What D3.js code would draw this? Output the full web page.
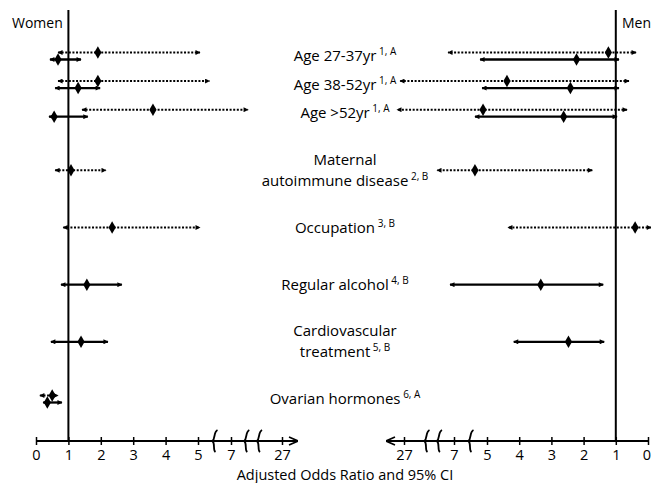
<!DOCTYPE html>
<html><head><meta charset="utf-8">
<script src="https://cdn.jsdelivr.net/npm/d3@7"></script>
<style>body{margin:0;background:#fff}svg{display:block}text{font-family:"Open Sans",sans-serif;fill:#000}</style>
</head><body><svg id="c" width="651" height="483"></svg>
<script>
// ---- data ----
const categories = ["Age 27-37yr","Age 38-52yr","Age >52yr","Maternal autoimmune disease","Occupation","Regular alcohol","Cardiovascular treatment","Ovarian hormones"];
const labelLines = [["Age 27-37yr"],["Age 38-52yr"],["Age >52yr"],["Maternal","autoimmune disease"],["Occupation"],["Regular alcohol"],["Cardiovascular","treatment"],["Ovarian hormones"]];
const footnotes = ["1, A","1, A","1, A","2, B","3, B","4, B","5, B","6, A"];
const isAgeRow = [true,true,true,false,false,false,false,false];
// [lower CI, OR, upper CI]
const womenDotted = [[0.68,1.91,5.12],[0.68,1.91,5.7],[1.42,3.61,13.7],[0.59,1.08,2.16],[0.84,2.35,5.12],null,null,[0.12,0.5,0.68]];
const womenSolid  = [[0.43,0.68,1.39],[0.59,1.30,1.98],[0.40,0.56,1.60],null,null,[0.77,1.57,2.65],[0.46,1.39,2.22],[0.22,0.35,0.8]];
const menDotted   = [[0.37,1.23,9.4],[0.59,4.38,28.6],[0.65,5.24,29.8],[1.73,5.73,13.8],[-0.1,0.40,4.35],null,null,null];
const menSolid    = [[0.90,2.22,5.42],[0.90,2.41,5.3],[0.96,2.62,5.73],null,null,[1.39,3.33,8.6],[1.36,2.47,4.17],null];
const tickValues = [0,1,2,3,4,5,7,27];
const breakValues = [6,13,18];
const axisTitle = "Adjusted Odds Ratio and 95% CI";

// ---- layout ----
const svg = d3.select("#c");
const W = 651, axisY = 441, topY = 10;
const xW = d3.scaleLinear().domain([0,5,7,27]).range([36,198,231,282]);
const xM = d3.scaleLinear().domain([0,5,7,27]).range([648,487,454,404]);
const slots = categories.map((c,i)=> isAgeRow[i] ? i*0.5 : (i-1));
const y = d3.scaleLinear().domain([0,6]).range([56,399]);

const defs = svg.append("defs");
defs.append("marker").attr("id","ah").attr("viewBox","0 0 10 10").attr("refX",9).attr("refY",5)
  .attr("markerWidth",6).attr("markerHeight",5).attr("markerUnits","userSpaceOnUse").attr("orient","auto-start-reverse")
  .append("path").attr("d","M0,0L10,5L0,10Z").attr("fill","#000");
defs.append("marker").attr("id","axa").attr("viewBox","0 0 10 10").attr("refX",10).attr("refY",5)
  .attr("markerWidth",10).attr("markerHeight",10).attr("markerUnits","userSpaceOnUse").attr("orient","auto-start-reverse")
  .append("path").attr("d","M1,1L10,5L1,9").attr("fill","none").attr("stroke","#000").attr("stroke-width",1.6);

[xW, xM].forEach(s=>{
  svg.append("line").attr("x1",s(1)).attr("x2",s(1)).attr("y1",topY).attr("y2",axisY)
    .attr("stroke","#000").attr("stroke-width",2);
});

function drawAxis(scale, endX){
  const g = svg.append("g").attr("transform",`translate(0,${axisY})`);
  g.append("line").attr("x1",scale(0)).attr("x2",endX).attr("y1",0).attr("y2",0)
    .attr("stroke","#000").attr("stroke-width",1.8).attr("marker-end","url(#axa)");
  const ax = d3.axisBottom(scale).tickValues(tickValues).tickFormat(d3.format("d")).tickSize(4).tickPadding(5);
  const a = svg.append("g").attr("transform",`translate(0,${axisY})`).call(ax);
  a.select(".domain").remove();
  a.selectAll(".tick line").attr("y1",-4).attr("y2",4).attr("stroke","#000").attr("stroke-width",1.5);
  a.selectAll(".tick text").attr("font-size",14.5).attr("font-family","Open Sans").attr("fill","#000");
  // keep tick labels inside the page
  a.selectAll(".tick").each(function(d){
    const px = scale(d);
    if(px + 5 > W) d3.select(this).select("text").attr("text-anchor","end").attr("x", W - px - 0.5);
  });
  g.selectAll("path.brk").data(breakValues).join("path").attr("class","brk")
    .attr("d",d=>{const x=scale(d);return `M${x+3},-11 C${x-1},-9 ${x+1},-3 ${x-2},0 C${x+1},3 ${x-2},9 ${x+1},11`;})
    .attr("fill","none").attr("stroke","#000").attr("stroke-width",1.8);
}
drawAxis(xW, 298);
drawAxis(xM, 386);

svg.append("text").attr("x",345).attr("y",480).attr("text-anchor","middle").attr("font-size",14.5).text(axisTitle);
svg.append("text").attr("x",12).attr("y",28).attr("font-size",14).text("Women");
svg.append("text").attr("x",622).attr("y",28).attr("font-size",14).text("Men");

const lab = svg.append("g");
categories.forEach((c,i)=>{
  const lines = labelLines[i], cy = y(slots[i]);
  const n = lines.length;
  lines.forEach((ln,j)=>{
    const t = lab.append("text").attr("x",345).attr("text-anchor","middle").attr("font-size",15)
      .attr("y", cy + 5 + (j-(n-1)/2)*21);
    t.append("tspan").text(ln);
    if(j===n-1) t.append("tspan").attr("font-size",10).attr("dy",-6).text(" "+footnotes[i]);
  });
});

const diamond = d3.symbol(d3.symbolDiamond,45);
function drawSeries(scale, dotted, solid){
  categories.forEach((c,i)=>{
    const cy = y(slots[i]);
    const both = dotted[i] && solid[i];
    [[dotted[i],true],[solid[i],false]].forEach(([v,isDot])=>{
      if(!v) return;
      const yy = cy + (both ? (isDot?-3.5:3.5) : 0);
      svg.append("line").attr("x1",scale(v[0])).attr("x2",scale(v[2])).attr("y1",yy).attr("y2",yy)
        .attr("stroke","#000").attr("stroke-width",isDot?2:2.3)
        .attr("stroke-dasharray",isDot?"2,1.6":null)
        .attr("marker-start","url(#ah)").attr("marker-end","url(#ah)");
      svg.append("path").attr("d",diamond).attr("transform",`translate(${scale(v[1])},${yy})`).attr("fill","#000");
    });
  });
}
drawSeries(xW, womenDotted, womenSolid);
drawSeries(xM, menDotted, menSolid);
</script></body></html>
